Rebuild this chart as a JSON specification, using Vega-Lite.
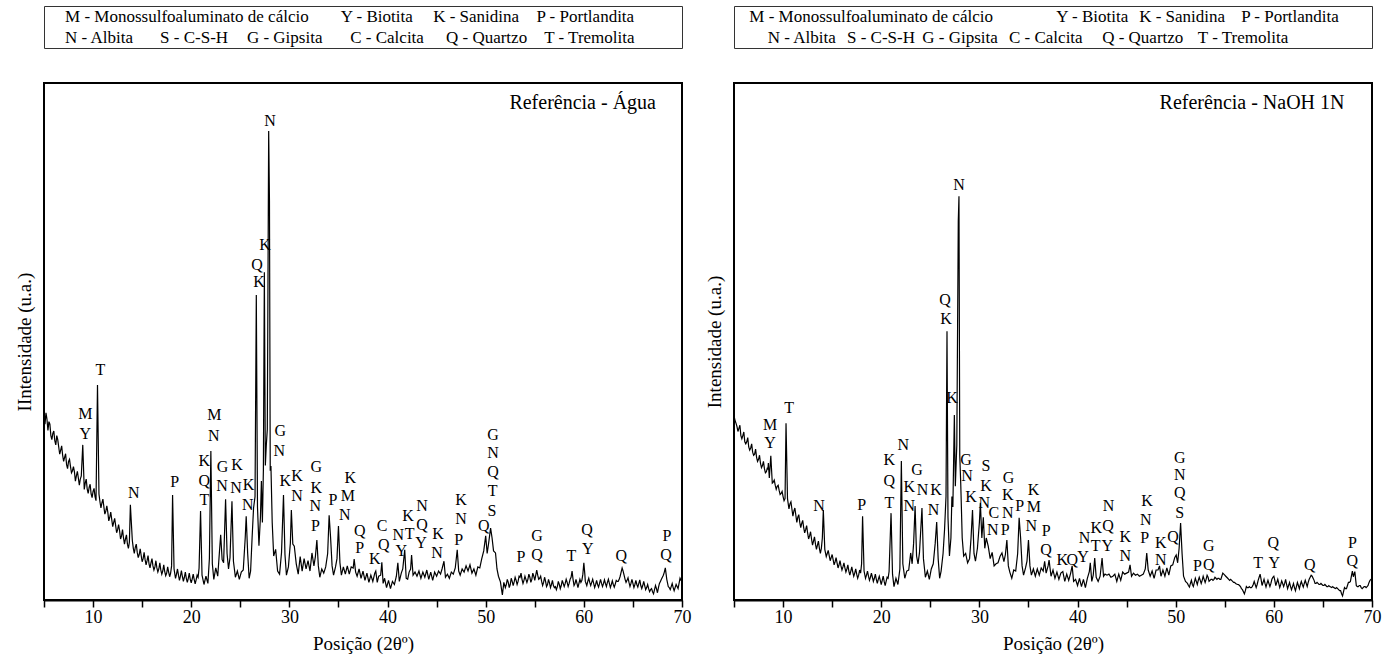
{
"$schema": "https://vega.github.io/schema/vega-lite/v6.json",
"background": "white",
"padding": {"left": 14, "top": 5, "right": 2, "bottom": 2},
"spacing": 12,
"config": {
  "font": "Liberation Serif, Times New Roman, Tinos, DejaVu Serif, serif",
  "view": {"stroke": "black", "strokeWidth": 2},
  "axis": {"grid": false, "labelFont": "Liberation Serif, Times New Roman, Tinos, DejaVu Serif, serif", "titleFont": "Liberation Serif, Times New Roman, Tinos, DejaVu Serif, serif", "titleFontWeight": "normal", "labelColor": "black", "titleColor": "black"},
  "text": {"font": "Liberation Serif, Times New Roman, Tinos, DejaVu Serif, serif", "color": "black"}
},
"datasets": {
"legL": [
 {"p": 3.3, "row": 1, "t": "M - Monossulfoaluminato de cálcio"},
 {"p": 46.5, "row": 1, "t": "Y - Biotita"},
 {"p": 61.0, "row": 1, "t": "K - Sanidina"},
 {"p": 77.2, "row": 1, "t": "P - Portlandita"},
 {"p": 3.3, "row": 2, "t": "N - Albita"},
 {"p": 18.2, "row": 2, "t": "S - C-S-H"},
 {"p": 31.8, "row": 2, "t": "G - Gipsita"},
 {"p": 48.0, "row": 2, "t": "C - Calcita"},
 {"p": 63.0, "row": 2, "t": "Q - Quartzo"},
 {"p": 78.4, "row": 2, "t": "T - Tremolita"}
],
"legR": [
 {"p": 2.4, "row": 1, "t": "M - Monossulfoaluminato de cálcio"},
 {"p": 50.5, "row": 1, "t": "Y - Biotita"},
 {"p": 63.5, "row": 1, "t": "K - Sanidina"},
 {"p": 79.5, "row": 1, "t": "P - Portlandita"},
 {"p": 5.3, "row": 2, "t": "N - Albita"},
 {"p": 17.7, "row": 2, "t": "S - C-S-H"},
 {"p": 29.5, "row": 2, "t": "G - Gipsita"},
 {"p": 43.1, "row": 2, "t": "C - Calcita"},
 {"p": 57.7, "row": 2, "t": "Q - Quartzo"},
 {"p": 72.7, "row": 2, "t": "T - Tremolita"}
],
"lineL": [
{"x":5.0,"v":360},{"x":5.2,"v":362},{"x":5.4,"v":328},{"x":5.6,"v":340},{"x":5.8,"v":310},{"x":6.0,"v":327},{"x":6.2,"v":300},{"x":6.4,"v":310},{"x":6.6,"v":282},{"x":6.8,"v":298},
{"x":7.0,"v":268},{"x":7.2,"v":283},{"x":7.4,"v":254},{"x":7.6,"v":272},{"x":7.8,"v":246},{"x":8.0,"v":258},{"x":8.2,"v":230},{"x":8.4,"v":249},{"x":8.6,"v":222},{"x":8.8,"v":240},
{"x":8.95,"v":300},{"x":9.1,"v":214},{"x":9.3,"v":234},{"x":9.5,"v":206},{"x":9.7,"v":224},{"x":9.9,"v":198},{"x":10.1,"v":216},{"x":10.3,"v":192},{"x":10.45,"v":416},{"x":10.6,"v":205},
{"x":10.8,"v":178},{"x":11.0,"v":195},{"x":11.2,"v":166},{"x":11.4,"v":182},{"x":11.6,"v":153},{"x":11.8,"v":170},{"x":12.0,"v":142},{"x":12.2,"v":158},{"x":12.4,"v":130},{"x":12.6,"v":146},
{"x":12.8,"v":118},{"x":13.0,"v":136},{"x":13.2,"v":108},{"x":13.4,"v":126},{"x":13.6,"v":100},{"x":13.8,"v":184},{"x":14.0,"v":115},{"x":14.2,"v":90},{"x":14.4,"v":108},{"x":14.6,"v":82},
{"x":14.8,"v":99},{"x":15.0,"v":74},{"x":15.2,"v":92},{"x":15.4,"v":68},{"x":15.6,"v":86},{"x":15.8,"v":62},{"x":16.0,"v":80},{"x":16.2,"v":58},{"x":16.4,"v":76},{"x":16.6,"v":54},
{"x":16.8,"v":72},{"x":17.0,"v":50},{"x":17.2,"v":68},{"x":17.4,"v":47},{"x":17.6,"v":64},{"x":17.8,"v":45},{"x":18.0,"v":66},{"x":18.1,"v":203},{"x":18.25,"v":60},{"x":18.4,"v":42},
{"x":18.6,"v":60},{"x":18.8,"v":38},{"x":19.0,"v":57},{"x":19.2,"v":36},{"x":19.4,"v":54},{"x":19.6,"v":34},{"x":19.8,"v":52},{"x":20.0,"v":33},{"x":20.2,"v":50},{"x":20.4,"v":31},
{"x":20.6,"v":48},{"x":20.8,"v":62},{"x":20.95,"v":172},{"x":21.1,"v":48},{"x":21.3,"v":30},{"x":21.5,"v":46},{"x":21.7,"v":32},{"x":21.85,"v":80},{"x":22.0,"v":288},{"x":22.15,"v":70},
{"x":22.3,"v":40},{"x":22.5,"v":62},{"x":22.7,"v":46},{"x":22.9,"v":100},{"x":23.0,"v":126},{"x":23.15,"v":78},{"x":23.3,"v":72},{"x":23.5,"v":195},{"x":23.65,"v":90},{"x":23.8,"v":60},
{"x":23.95,"v":82},{"x":24.15,"v":191},{"x":24.3,"v":75},{"x":24.5,"v":44},{"x":24.7,"v":56},{"x":24.9,"v":40},{"x":25.1,"v":54},{"x":25.3,"v":58},{"x":25.5,"v":120},{"x":25.6,"v":162},
{"x":25.75,"v":90},{"x":25.9,"v":42},{"x":26.05,"v":56},{"x":26.2,"v":120},{"x":26.35,"v":178},{"x":26.5,"v":200},{"x":26.63,"v":590},{"x":26.75,"v":180},{"x":26.9,"v":105},{"x":27.05,"v":160},
{"x":27.15,"v":230},{"x":27.25,"v":150},{"x":27.35,"v":250},{"x":27.45,"v":634},{"x":27.55,"v":260},{"x":27.65,"v":300},{"x":27.75,"v":330},{"x":27.89,"v":907},{"x":27.97,"v":772},{"x":28.05,"v":250},
{"x":28.12,"v":259},{"x":28.25,"v":150},{"x":28.4,"v":85},{"x":28.6,"v":98},{"x":28.8,"v":56},{"x":29.0,"v":50},{"x":29.2,"v":92},{"x":29.4,"v":203},{"x":29.55,"v":88},{"x":29.7,"v":48},
{"x":29.9,"v":64},{"x":30.1,"v":110},{"x":30.2,"v":174},{"x":30.35,"v":108},{"x":30.5,"v":104},{"x":30.7,"v":70},{"x":30.9,"v":50},{"x":31.1,"v":84},{"x":31.3,"v":56},{"x":31.5,"v":80},
{"x":31.7,"v":60},{"x":31.9,"v":76},{"x":32.1,"v":56},{"x":32.3,"v":91},{"x":32.5,"v":66},{"x":32.65,"v":84},{"x":32.8,"v":116},{"x":32.95,"v":66},{"x":33.1,"v":44},{"x":33.3,"v":60},
{"x":33.5,"v":52},{"x":33.7,"v":64},{"x":33.9,"v":90},{"x":34.05,"v":164},{"x":34.2,"v":120},{"x":34.35,"v":66},{"x":34.5,"v":48},{"x":34.7,"v":64},{"x":34.85,"v":80},{"x":35.0,"v":143},
{"x":35.15,"v":72},{"x":35.3,"v":48},{"x":35.5,"v":64},{"x":35.7,"v":50},{"x":35.9,"v":66},{"x":36.1,"v":50},{"x":36.3,"v":64},{"x":36.5,"v":62},{"x":36.6,"v":79},{"x":36.75,"v":54},
{"x":36.9,"v":46},{"x":37.1,"v":60},{"x":37.3,"v":42},{"x":37.5,"v":56},{"x":37.7,"v":38},{"x":37.9,"v":52},{"x":38.1,"v":34},{"x":38.3,"v":48},{"x":38.5,"v":36},{"x":38.7,"v":52},
{"x":38.8,"v":56},{"x":38.95,"v":34},{"x":39.1,"v":46},{"x":39.3,"v":48},{"x":39.42,"v":73},{"x":39.55,"v":32},{"x":39.7,"v":42},{"x":39.9,"v":24},{"x":40.1,"v":38},{"x":40.3,"v":22},
{"x":40.5,"v":36},{"x":40.7,"v":30},{"x":40.9,"v":46},{"x":41.05,"v":72},{"x":41.2,"v":36},{"x":41.4,"v":52},{"x":41.55,"v":60},{"x":41.75,"v":97},{"x":41.9,"v":42},{"x":42.05,"v":40},
{"x":42.2,"v":54},{"x":42.35,"v":60},{"x":42.45,"v":87},{"x":42.6,"v":48},{"x":42.8,"v":54},{"x":43.0,"v":46},{"x":43.2,"v":56},{"x":43.4,"v":42},{"x":43.6,"v":54},{"x":43.8,"v":44},
{"x":44.0,"v":58},{"x":44.2,"v":40},{"x":44.4,"v":54},{"x":44.6,"v":38},{"x":44.8,"v":54},{"x":45.0,"v":46},{"x":45.2,"v":56},{"x":45.4,"v":50},{"x":45.55,"v":60},{"x":45.75,"v":75},
{"x":45.9,"v":44},{"x":46.1,"v":50},{"x":46.3,"v":42},{"x":46.5,"v":54},{"x":46.7,"v":50},{"x":46.9,"v":62},{"x":47.1,"v":97},{"x":47.25,"v":56},{"x":47.4,"v":48},{"x":47.6,"v":60},
{"x":47.8,"v":54},{"x":48.0,"v":66},{"x":48.2,"v":56},{"x":48.4,"v":68},{"x":48.6,"v":52},{"x":48.8,"v":60},{"x":49.0,"v":48},{"x":49.2,"v":64},{"x":49.4,"v":62},{"x":49.6,"v":80},
{"x":49.8,"v":95},{"x":50.0,"v":124},{"x":50.15,"v":90},{"x":50.3,"v":110},{"x":50.5,"v":139},{"x":50.65,"v":120},{"x":50.8,"v":95},{"x":51.0,"v":91},{"x":51.15,"v":60},{"x":51.3,"v":46},
{"x":51.5,"v":35},{"x":51.7,"v":10},{"x":51.85,"v":34},{"x":52.0,"v":24},{"x":52.2,"v":40},{"x":52.4,"v":24},{"x":52.6,"v":42},{"x":52.8,"v":28},{"x":53.0,"v":44},{"x":53.2,"v":30},
{"x":53.4,"v":46},{"x":53.6,"v":52},{"x":53.8,"v":32},{"x":54.0,"v":46},{"x":54.2,"v":34},{"x":54.4,"v":50},{"x":54.6,"v":34},{"x":54.8,"v":52},{"x":55.0,"v":38},{"x":55.2,"v":58},
{"x":55.4,"v":40},{"x":55.6,"v":46},{"x":55.8,"v":28},{"x":56.0,"v":44},{"x":56.2,"v":26},{"x":56.4,"v":40},{"x":56.6,"v":24},{"x":56.8,"v":38},{"x":57.0,"v":24},{"x":57.2,"v":20},
{"x":57.4,"v":36},{"x":57.6,"v":22},{"x":57.8,"v":38},{"x":58.0,"v":26},{"x":58.2,"v":40},{"x":58.4,"v":26},{"x":58.6,"v":40},{"x":58.8,"v":56},{"x":59.0,"v":28},{"x":59.2,"v":40},
{"x":59.4,"v":24},{"x":59.6,"v":40},{"x":59.8,"v":38},{"x":60.0,"v":72},{"x":60.15,"v":36},{"x":60.3,"v":28},{"x":60.5,"v":42},{"x":60.7,"v":28},{"x":60.9,"v":40},{"x":61.1,"v":24},
{"x":61.3,"v":38},{"x":61.5,"v":25},{"x":61.7,"v":40},{"x":61.9,"v":26},{"x":62.1,"v":39},{"x":62.3,"v":26},{"x":62.5,"v":40},{"x":62.7,"v":24},{"x":62.9,"v":37},{"x":63.1,"v":25},
{"x":63.3,"v":38},{"x":63.5,"v":36},{"x":63.7,"v":46},{"x":63.9,"v":62},{"x":64.1,"v":48},{"x":64.3,"v":34},{"x":64.5,"v":43},{"x":64.7,"v":26},{"x":64.9,"v":40},{"x":65.1,"v":24},
{"x":65.3,"v":38},{"x":65.5,"v":25},{"x":65.7,"v":39},{"x":65.9,"v":22},{"x":66.1,"v":36},{"x":66.3,"v":20},{"x":66.5,"v":30},{"x":66.7,"v":16},{"x":66.9,"v":22},{"x":67.1,"v":12},
{"x":67.3,"v":28},{"x":67.5,"v":14},{"x":67.7,"v":32},{"x":67.9,"v":40},{"x":68.1,"v":48},{"x":68.3,"v":62},{"x":68.45,"v":40},{"x":68.6,"v":26},{"x":68.8,"v":20},{"x":69.0,"v":32},
{"x":69.2,"v":18},{"x":69.4,"v":30},{"x":69.6,"v":22},{"x":69.8,"v":42},{"x":70.0,"v":37},
{"x":5.1,"v":340},{"x":5.3,"v":350},{"x":5.5,"v":345},{"x":5.7,"v":318},{"x":5.9,"v":322},{"x":6.1,"v":308},{"x":6.3,"v":318},{"x":6.5,"v":296},{"x":6.7,"v":290},{"x":6.9,"v":280},
{"x":7.1,"v":276},{"x":7.3,"v":262},{"x":7.5,"v":268},{"x":7.7,"v":258},{"x":7.9,"v":250},{"x":8.1,"v":248},{"x":8.3,"v":240},{"x":8.5,"v":236},{"x":8.7,"v":234},{"x":9.2,"v":226},
{"x":9.4,"v":215},{"x":9.6,"v":218},{"x":9.8,"v":205},{"x":10.0,"v":210},{"x":10.2,"v":200},{"x":10.7,"v":190},{"x":10.9,"v":188},{"x":11.1,"v":180},{"x":11.3,"v":172},{"x":11.5,"v":170},
{"x":11.7,"v":160},{"x":11.9,"v":156},{"x":12.1,"v":150},{"x":12.3,"v":144},{"x":12.5,"v":136},{"x":12.7,"v":134},{"x":12.9,"v":124},{"x":13.1,"v":120},{"x":13.3,"v":118},{"x":13.5,"v":108},
{"x":13.7,"v":112},{"x":14.1,"v":100},{"x":14.3,"v":102},{"x":14.5,"v":92},{"x":14.7,"v":88},{"x":14.9,"v":86},{"x":15.1,"v":80},{"x":15.3,"v":78},{"x":15.5,"v":76},{"x":15.7,"v":70},
{"x":15.9,"v":72},{"x":16.1,"v":66},{"x":16.3,"v":64},{"x":16.5,"v":62},{"x":16.7,"v":60},{"x":16.9,"v":58},{"x":17.1,"v":56},{"x":17.3,"v":55},{"x":17.5,"v":52},{"x":17.7,"v":54},
{"x":17.9,"v":52},{"x":18.5,"v":50},{"x":18.7,"v":48},{"x":18.9,"v":46},{"x":19.1,"v":45},{"x":19.3,"v":44},{"x":19.5,"v":42},{"x":19.7,"v":42},{"x":19.9,"v":40},{"x":20.1,"v":41},
{"x":20.3,"v":40},{"x":20.5,"v":39},{"x":20.7,"v":44},
{"x":52.1,"v":30},{"x":52.3,"v":34},{"x":52.5,"v":30},{"x":52.7,"v":36},{"x":52.9,"v":35},{"x":53.1,"v":38},{"x":53.3,"v":36},{"x":53.5,"v":44},{"x":53.7,"v":40},{"x":53.9,"v":38},
{"x":54.1,"v":40},{"x":54.3,"v":40},{"x":54.5,"v":44},{"x":54.7,"v":40},{"x":54.9,"v":46},{"x":55.1,"v":48},{"x":55.3,"v":48},{"x":55.5,"v":42},{"x":55.7,"v":36},{"x":55.9,"v":34},
{"x":56.1,"v":36},{"x":56.3,"v":30},{"x":56.5,"v":33},{"x":56.7,"v":30},{"x":56.9,"v":28},{"x":57.1,"v":26},{"x":57.3,"v":26},{"x":57.5,"v":30},{"x":57.7,"v":28},{"x":57.9,"v":32},
{"x":58.1,"v":32},{"x":58.3,"v":34},{"x":58.5,"v":32},{"x":58.7,"v":44},{"x":58.9,"v":40},{"x":59.1,"v":32},{"x":59.3,"v":32},{"x":59.5,"v":32},{"x":59.7,"v":34},{"x":59.9,"v":50},
{"x":60.1,"v":50},{"x":60.4,"v":36},{"x":60.6,"v":34},{"x":60.8,"v":34},{"x":61.0,"v":32},{"x":61.2,"v":30},{"x":61.4,"v":30},{"x":61.6,"v":32},{"x":61.8,"v":32},{"x":62.0,"v":32},
{"x":62.2,"v":32},{"x":62.4,"v":34},{"x":62.6,"v":32},{"x":62.8,"v":30},{"x":63.0,"v":30},{"x":63.2,"v":31},{"x":63.4,"v":36},{"x":63.6,"v":40},{"x":63.8,"v":54},{"x":64.0,"v":56},
{"x":64.2,"v":40},{"x":64.4,"v":38},{"x":64.6,"v":34},{"x":64.8,"v":32},{"x":65.0,"v":32},{"x":65.2,"v":30},{"x":65.4,"v":30},{"x":65.6,"v":32},{"x":65.8,"v":28},{"x":66.0,"v":28},
{"x":66.2,"v":28},{"x":66.4,"v":24},{"x":66.6,"v":22},{"x":66.8,"v":20},{"x":67.0,"v":16},{"x":67.2,"v":20},{"x":67.4,"v":22},{"x":67.6,"v":24},{"x":67.8,"v":36},{"x":68.0,"v":44},
{"x":68.2,"v":54},{"x":68.7,"v":24},{"x":68.9,"v":26},{"x":69.1,"v":24},{"x":69.3,"v":24},{"x":69.5,"v":26},{"x":69.7,"v":32},{"x":69.9,"v":38}
],
"lineR": [
{"x":5.0,"v":356},{"x":5.2,"v":342},{"x":5.4,"v":326},{"x":5.6,"v":338},{"x":5.8,"v":312},{"x":6.0,"v":325},{"x":6.2,"v":302},{"x":6.4,"v":314},{"x":6.6,"v":290},{"x":6.8,"v":302},
{"x":7.0,"v":280},{"x":7.2,"v":292},{"x":7.4,"v":268},{"x":7.6,"v":280},{"x":7.8,"v":256},{"x":8.0,"v":268},{"x":8.2,"v":246},{"x":8.4,"v":256},{"x":8.5,"v":265},{"x":8.6,"v":236},
{"x":8.75,"v":279},{"x":8.9,"v":226},{"x":9.1,"v":232},{"x":9.3,"v":214},{"x":9.5,"v":222},{"x":9.7,"v":204},{"x":9.9,"v":210},{"x":10.1,"v":192},{"x":10.3,"v":342},{"x":10.45,"v":196},
{"x":10.6,"v":176},{"x":10.8,"v":190},{"x":11.0,"v":162},{"x":11.2,"v":178},{"x":11.4,"v":150},{"x":11.6,"v":165},{"x":11.8,"v":140},{"x":12.0,"v":154},{"x":12.2,"v":130},{"x":12.4,"v":144},
{"x":12.6,"v":118},{"x":12.8,"v":132},{"x":13.0,"v":106},{"x":13.2,"v":122},{"x":13.4,"v":98},{"x":13.6,"v":114},{"x":13.8,"v":90},{"x":14.0,"v":120},{"x":14.1,"v":174},{"x":14.25,"v":98},
{"x":14.4,"v":84},{"x":14.6,"v":96},{"x":14.8,"v":76},{"x":15.0,"v":88},{"x":15.2,"v":68},{"x":15.4,"v":82},{"x":15.6,"v":62},{"x":15.8,"v":76},{"x":16.0,"v":58},{"x":16.2,"v":72},
{"x":16.4,"v":54},{"x":16.6,"v":68},{"x":16.8,"v":48},{"x":17.0,"v":64},{"x":17.2,"v":46},{"x":17.4,"v":60},{"x":17.6,"v":42},{"x":17.8,"v":58},{"x":18.0,"v":70},{"x":18.1,"v":162},
{"x":18.25,"v":56},{"x":18.4,"v":42},{"x":18.6,"v":56},{"x":18.8,"v":38},{"x":19.0,"v":52},{"x":19.2,"v":36},{"x":19.4,"v":50},{"x":19.6,"v":32},{"x":19.8,"v":46},{"x":20.0,"v":30},
{"x":20.2,"v":46},{"x":20.4,"v":28},{"x":20.6,"v":44},{"x":20.8,"v":55},{"x":21.0,"v":168},{"x":21.15,"v":50},{"x":21.3,"v":26},{"x":21.5,"v":42},{"x":21.7,"v":30},{"x":21.9,"v":60},
{"x":22.05,"v":269},{"x":22.2,"v":70},{"x":22.4,"v":42},{"x":22.6,"v":56},{"x":22.8,"v":58},{"x":23.0,"v":91},{"x":23.15,"v":70},{"x":23.3,"v":110},{"x":23.45,"v":182},{"x":23.6,"v":85},
{"x":23.75,"v":70},{"x":23.9,"v":92},{"x":24.15,"v":178},{"x":24.3,"v":80},{"x":24.5,"v":44},{"x":24.7,"v":56},{"x":24.9,"v":40},{"x":25.1,"v":60},{"x":25.3,"v":70},{"x":25.5,"v":110},
{"x":25.65,"v":151},{"x":25.8,"v":80},{"x":25.95,"v":42},{"x":26.1,"v":56},{"x":26.3,"v":90},{"x":26.45,"v":136},{"x":26.6,"v":200},{"x":26.7,"v":520},{"x":26.8,"v":160},{"x":26.95,"v":85},
{"x":27.1,"v":120},{"x":27.2,"v":200},{"x":27.3,"v":180},{"x":27.45,"v":358},{"x":27.55,"v":220},{"x":27.7,"v":300},{"x":27.85,"v":733},{"x":27.92,"v":781},{"x":28.0,"v":280},{"x":28.1,"v":226},
{"x":28.25,"v":120},{"x":28.4,"v":85},{"x":28.6,"v":90},{"x":28.8,"v":72},{"x":29.0,"v":80},{"x":29.15,"v":120},{"x":29.3,"v":174},{"x":29.45,"v":90},{"x":29.6,"v":75},{"x":29.8,"v":100},
{"x":30.0,"v":150},{"x":30.1,"v":188},{"x":30.25,"v":120},{"x":30.4,"v":160},{"x":30.55,"v":100},{"x":30.7,"v":120},{"x":30.9,"v":104},{"x":31.1,"v":80},{"x":31.3,"v":92},{"x":31.5,"v":66},
{"x":31.7,"v":70},{"x":31.9,"v":72},{"x":32.1,"v":84},{"x":32.3,"v":91},{"x":32.5,"v":74},{"x":32.65,"v":88},{"x":32.8,"v":116},{"x":32.95,"v":66},{"x":33.1,"v":54},{"x":33.3,"v":42},
{"x":33.5,"v":58},{"x":33.7,"v":56},{"x":33.9,"v":90},{"x":34.05,"v":159},{"x":34.2,"v":120},{"x":34.35,"v":66},{"x":34.5,"v":48},{"x":34.7,"v":62},{"x":34.85,"v":75},{"x":35.0,"v":116},
{"x":35.15,"v":66},{"x":35.3,"v":48},{"x":35.5,"v":60},{"x":35.7,"v":46},{"x":35.9,"v":60},{"x":36.1,"v":48},{"x":36.3,"v":62},{"x":36.5,"v":56},{"x":36.65,"v":75},{"x":36.8,"v":52},
{"x":37.0,"v":66},{"x":37.1,"v":77},{"x":37.3,"v":46},{"x":37.5,"v":58},{"x":37.7,"v":42},{"x":37.9,"v":54},{"x":38.1,"v":40},{"x":38.3,"v":52},{"x":38.5,"v":55},{"x":38.7,"v":36},
{"x":38.9,"v":50},{"x":39.1,"v":38},{"x":39.3,"v":52},{"x":39.45,"v":66},{"x":39.6,"v":36},{"x":39.8,"v":40},{"x":40.0,"v":28},{"x":40.2,"v":42},{"x":40.4,"v":26},{"x":40.6,"v":40},
{"x":40.8,"v":24},{"x":41.0,"v":42},{"x":41.2,"v":55},{"x":41.3,"v":72},{"x":41.45,"v":36},{"x":41.6,"v":48},{"x":41.75,"v":81},{"x":41.9,"v":44},{"x":42.1,"v":36},{"x":42.3,"v":46},
{"x":42.5,"v":81},{"x":42.65,"v":46},{"x":42.8,"v":50},{"x":43.0,"v":48},{"x":43.2,"v":50},{"x":43.4,"v":44},{"x":43.6,"v":46},{"x":43.8,"v":50},{"x":44.0,"v":36},{"x":44.2,"v":50},
{"x":44.4,"v":38},{"x":44.6,"v":54},{"x":44.8,"v":50},{"x":45.0,"v":52},{"x":45.2,"v":54},{"x":45.35,"v":68},{"x":45.5,"v":46},{"x":45.7,"v":52},{"x":45.9,"v":48},{"x":46.1,"v":50},
{"x":46.3,"v":46},{"x":46.5,"v":48},{"x":46.7,"v":50},{"x":46.9,"v":60},{"x":47.05,"v":91},{"x":47.2,"v":58},{"x":47.4,"v":46},{"x":47.6,"v":56},{"x":47.8,"v":42},{"x":48.0,"v":58},
{"x":48.2,"v":58},{"x":48.35,"v":66},{"x":48.5,"v":46},{"x":48.7,"v":58},{"x":48.9,"v":46},{"x":49.1,"v":62},{"x":49.3,"v":48},{"x":49.5,"v":66},{"x":49.7,"v":68},{"x":49.9,"v":82},
{"x":50.05,"v":87},{"x":50.2,"v":72},{"x":50.35,"v":100},{"x":50.5,"v":149},{"x":50.65,"v":90},{"x":50.8,"v":46},{"x":51.0,"v":36},{"x":51.2,"v":32},{"x":51.4,"v":25},{"x":51.6,"v":38},
{"x":51.8,"v":26},{"x":52.0,"v":42},{"x":52.2,"v":30},{"x":52.4,"v":44},{"x":52.6,"v":32},{"x":52.8,"v":46},{"x":53.0,"v":34},{"x":53.2,"v":48},{"x":53.4,"v":36},{"x":53.6,"v":40},
{"x":53.8,"v":38},{"x":54.0,"v":44},{"x":54.2,"v":40},{"x":54.4,"v":42},{"x":54.6,"v":40},{"x":54.8,"v":52},{"x":55.0,"v":48},{"x":55.2,"v":44},{"x":55.4,"v":40},{"x":55.6,"v":40},
{"x":55.8,"v":36},{"x":56.0,"v":34},{"x":56.2,"v":31},{"x":56.4,"v":30},{"x":56.6,"v":26},{"x":56.8,"v":20},{"x":57.0,"v":12},{"x":57.2,"v":26},{"x":57.4,"v":24},{"x":57.6,"v":24},
{"x":57.8,"v":26},{"x":58.0,"v":36},{"x":58.2,"v":24},{"x":58.4,"v":38},{"x":58.6,"v":50},{"x":58.8,"v":28},{"x":59.0,"v":40},{"x":59.2,"v":25},{"x":59.4,"v":38},{"x":59.6,"v":26},
{"x":59.8,"v":40},{"x":60.0,"v":46},{"x":60.2,"v":28},{"x":60.4,"v":40},{"x":60.6,"v":24},{"x":60.8,"v":37},{"x":61.0,"v":26},{"x":61.2,"v":40},{"x":61.4,"v":22},{"x":61.6,"v":34},
{"x":61.8,"v":20},{"x":62.0,"v":32},{"x":62.2,"v":18},{"x":62.4,"v":34},{"x":62.6,"v":22},{"x":62.8,"v":36},{"x":63.0,"v":25},{"x":63.2,"v":38},{"x":63.4,"v":26},{"x":63.6,"v":40},
{"x":63.8,"v":48},{"x":64.0,"v":42},{"x":64.2,"v":32},{"x":64.4,"v":34},{"x":64.6,"v":30},{"x":64.8,"v":32},{"x":65.0,"v":28},{"x":65.2,"v":30},{"x":65.4,"v":26},{"x":65.6,"v":28},
{"x":65.8,"v":25},{"x":66.0,"v":26},{"x":66.2,"v":23},{"x":66.4,"v":24},{"x":66.6,"v":20},{"x":66.8,"v":18},{"x":67.0,"v":8},{"x":67.2,"v":24},{"x":67.4,"v":22},{"x":67.6,"v":34},
{"x":67.8,"v":36},{"x":68.0,"v":56},{"x":68.1,"v":45},{"x":68.25,"v":55},{"x":68.4,"v":28},{"x":68.6,"v":26},{"x":68.8,"v":28},{"x":69.0,"v":22},{"x":69.2,"v":26},{"x":69.4,"v":24},
{"x":69.6,"v":28},{"x":69.8,"v":38},{"x":70.0,"v":40},
{"x":5.1,"v":348},{"x":5.3,"v":336},{"x":5.5,"v":332},{"x":5.7,"v":318},{"x":5.9,"v":318},{"x":6.1,"v":306},{"x":6.3,"v":306},{"x":6.5,"v":296},{"x":6.7,"v":294},{"x":6.9,"v":286},
{"x":7.1,"v":282},{"x":7.3,"v":276},{"x":7.5,"v":272},{"x":7.7,"v":264},{"x":7.9,"v":260},{"x":8.1,"v":254},{"x":8.3,"v":248},{"x":8.45,"v":252},{"x":9.0,"v":228},{"x":9.2,"v":222},
{"x":9.4,"v":220},{"x":9.6,"v":212},{"x":9.8,"v":206},{"x":10.0,"v":200},{"x":10.2,"v":196},{"x":10.7,"v":186},{"x":10.9,"v":176},{"x":11.1,"v":172},{"x":11.3,"v":164},{"x":11.5,"v":160},
{"x":11.7,"v":150},{"x":11.9,"v":148},{"x":12.1,"v":140},{"x":12.3,"v":136},{"x":12.5,"v":130},{"x":12.7,"v":124},{"x":12.9,"v":118},{"x":13.1,"v":114},{"x":13.3,"v":108},{"x":13.5,"v":106},
{"x":13.7,"v":100},{"x":13.9,"v":100},{"x":14.5,"v":90},{"x":14.7,"v":86},{"x":14.9,"v":82},{"x":15.1,"v":78},{"x":15.3,"v":74},{"x":15.5,"v":72},{"x":15.7,"v":68},{"x":15.9,"v":66},
{"x":16.1,"v":64},{"x":16.3,"v":62},{"x":16.5,"v":60},{"x":16.7,"v":56},{"x":16.9,"v":56},{"x":17.1,"v":54},{"x":17.3,"v":52},{"x":17.5,"v":50},{"x":17.7,"v":48},{"x":17.9,"v":52},
{"x":18.5,"v":48},{"x":18.7,"v":46},{"x":18.9,"v":44},{"x":19.1,"v":44},{"x":19.3,"v":42},{"x":19.5,"v":40},{"x":19.7,"v":40},{"x":19.9,"v":38},{"x":20.1,"v":38},{"x":20.3,"v":36},
{"x":20.5,"v":36},{"x":20.7,"v":42},
{"x":51.1,"v":34},{"x":51.3,"v":28},{"x":51.5,"v":32},{"x":51.7,"v":30},{"x":51.9,"v":34},{"x":52.1,"v":36},{"x":52.3,"v":38},{"x":52.5,"v":38},{"x":52.7,"v":38},{"x":52.9,"v":40},
{"x":53.1,"v":40},{"x":53.3,"v":44},{"x":53.5,"v":38},{"x":53.7,"v":40},{"x":53.9,"v":40},{"x":54.1,"v":42},{"x":54.3,"v":42},{"x":54.5,"v":40},{"x":54.7,"v":46},{"x":54.9,"v":50},
{"x":55.1,"v":46},{"x":55.3,"v":42},{"x":55.5,"v":38},{"x":55.7,"v":38},{"x":55.9,"v":34},{"x":56.1,"v":32},{"x":56.3,"v":30},{"x":56.5,"v":28},{"x":56.7,"v":22},{"x":56.9,"v":16},
{"x":57.1,"v":18},{"x":57.3,"v":24},{"x":57.5,"v":26},{"x":57.7,"v":24},{"x":57.9,"v":30},{"x":58.1,"v":30},{"x":58.3,"v":30},{"x":58.5,"v":44},{"x":58.7,"v":40},{"x":58.9,"v":34},
{"x":59.1,"v":32},{"x":59.3,"v":32},{"x":59.5,"v":32},{"x":59.7,"v":32},{"x":59.9,"v":44},{"x":60.1,"v":38},{"x":60.3,"v":34},{"x":60.5,"v":32},{"x":60.7,"v":30},{"x":60.9,"v":32},
{"x":61.1,"v":32},{"x":61.3,"v":30},{"x":61.5,"v":28},{"x":61.7,"v":26},{"x":61.9,"v":26},{"x":62.1,"v":24},{"x":62.3,"v":26},{"x":62.5,"v":28},{"x":62.7,"v":30},{"x":62.9,"v":30},
{"x":63.1,"v":32},{"x":63.3,"v":32},{"x":63.5,"v":34},{"x":63.7,"v":44},{"x":63.9,"v":46},{"x":64.1,"v":38},{"x":64.3,"v":32},{"x":64.5,"v":32},{"x":64.7,"v":30},{"x":64.9,"v":30},
{"x":65.1,"v":28},{"x":65.3,"v":28},{"x":65.5,"v":26},{"x":65.7,"v":26},{"x":65.9,"v":24},{"x":66.1,"v":24},{"x":66.3,"v":22},{"x":66.5,"v":22},{"x":66.7,"v":18},{"x":66.9,"v":12},
{"x":67.1,"v":16},{"x":67.3,"v":22},{"x":67.5,"v":28},{"x":67.7,"v":34},{"x":67.9,"v":46},{"x":68.5,"v":26},{"x":68.7,"v":28},{"x":68.9,"v":24},{"x":69.1,"v":24},{"x":69.3,"v":26},
{"x":69.5,"v":26},{"x":69.7,"v":34},{"x":69.9,"v":40}
],
"labL": [
{"x":9.21,"v":360,"t":"M"},{"x":9.21,"v":322,"t":"Y"},{"x":10.74,"v":445,"t":"T"},{"x":14.14,"v":207,"t":"N"},{"x":18.32,"v":228,"t":"P"},
{"x":21.33,"v":268,"t":"K"},{"x":21.33,"v":230,"t":"Q"},{"x":21.33,"v":194,"t":"T"},{"x":22.35,"v":358,"t":"M"},{"x":22.3,"v":317,"t":"N"},
{"x":23.2,"v":257,"t":"G"},{"x":23.14,"v":220,"t":"N"},{"x":24.66,"v":262,"t":"K"},{"x":24.56,"v":217,"t":"N"},{"x":25.85,"v":223,"t":"K"},{"x":25.75,"v":183,"t":"N"},
{"x":26.7,"v":648,"t":"Q"},{"x":26.9,"v":615,"t":"K"},{"x":27.52,"v":687,"t":"K"},{"x":28.03,"v":926,"t":"N"},
{"x":29.08,"v":326,"t":"G"},{"x":28.98,"v":288,"t":"N"},{"x":29.59,"v":230,"t":"K"},{"x":30.78,"v":239,"t":"K"},{"x":30.78,"v":201,"t":"N"},
{"x":32.75,"v":257,"t":"G"},{"x":32.75,"v":217,"t":"K"},{"x":32.65,"v":181,"t":"N"},{"x":32.65,"v":143,"t":"P"},{"x":34.44,"v":194,"t":"P"},
{"x":36.21,"v":236,"t":"K"},{"x":35.97,"v":201,"t":"M"},{"x":35.64,"v":165,"t":"N"},{"x":37.16,"v":133,"t":"Q"},{"x":37.16,"v":101,"t":"P"},
{"x":38.7,"v":80,"t":"K"},{"x":39.44,"v":143,"t":"C"},{"x":39.61,"v":107,"t":"Q"},{"x":41.1,"v":126,"t":"N"},{"x":41.4,"v":95,"t":"Y"},
{"x":42.25,"v":128,"t":"T"},{"x":42.09,"v":162,"t":"K"},{"x":43.51,"v":182,"t":"N"},{"x":43.51,"v":146,"t":"Q"},{"x":43.41,"v":110,"t":"Y"},
{"x":45.14,"v":128,"t":"K"},{"x":45.04,"v":91,"t":"N"},{"x":47.49,"v":194,"t":"K"},{"x":47.49,"v":157,"t":"N"},{"x":47.25,"v":117,"t":"P"},
{"x":49.8,"v":143,"t":"Q"},{"x":50.75,"v":320,"t":"G"},{"x":50.75,"v":284,"t":"N"},{"x":50.75,"v":247,"t":"Q"},{"x":50.72,"v":210,"t":"T"},{"x":50.64,"v":173,"t":"S"},
{"x":53.6,"v":83,"t":"P"},{"x":55.23,"v":123,"t":"G"},{"x":55.23,"v":88,"t":"Q"},{"x":58.72,"v":85,"t":"T"},{"x":60.32,"v":136,"t":"Q"},{"x":60.39,"v":99,"t":"Y"},
{"x":63.82,"v":85,"t":"Q"},{"x":68.47,"v":123,"t":"P"},{"x":68.37,"v":88,"t":"Q"}
],
"labR": [
{"x":8.67,"v":338,"t":"M"},{"x":8.67,"v":303,"t":"Y"},{"x":10.61,"v":371,"t":"T"},{"x":13.67,"v":181,"t":"N"},{"x":18.0,"v":184,"t":"P"},
{"x":20.82,"v":270,"t":"K"},{"x":20.82,"v":230,"t":"Q"},{"x":20.82,"v":188,"t":"T"},{"x":22.24,"v":300,"t":"N"},{"x":23.64,"v":252,"t":"G"},
{"x":22.86,"v":219,"t":"K"},{"x":22.86,"v":181,"t":"N"},{"x":24.22,"v":213,"t":"N"},{"x":25.58,"v":213,"t":"K"},{"x":25.34,"v":175,"t":"N"},
{"x":26.5,"v":580,"t":"Q"},{"x":26.6,"v":544,"t":"K"},{"x":27.21,"v":391,"t":"K"},{"x":27.92,"v":803,"t":"N"},
{"x":28.64,"v":271,"t":"G"},{"x":28.75,"v":239,"t":"N"},{"x":29.15,"v":199,"t":"K"},{"x":30.68,"v":260,"t":"S"},{"x":30.68,"v":221,"t":"K"},{"x":30.51,"v":188,"t":"N"},
{"x":31.47,"v":168,"t":"C"},{"x":31.37,"v":136,"t":"N"},{"x":32.96,"v":236,"t":"G"},{"x":32.9,"v":204,"t":"K"},{"x":32.9,"v":168,"t":"N"},{"x":32.62,"v":135,"t":"P"},
{"x":34.12,"v":182,"t":"P"},{"x":35.51,"v":213,"t":"K"},{"x":35.55,"v":179,"t":"M"},{"x":35.28,"v":143,"t":"N"},{"x":36.8,"v":133,"t":"P"},{"x":36.8,"v":97,"t":"Q"},
{"x":38.44,"v":78,"t":"K"},{"x":39.46,"v":78,"t":"Q"},{"x":40.72,"v":120,"t":"N"},{"x":40.55,"v":83,"t":"Y"},{"x":41.91,"v":139,"t":"K"},{"x":41.84,"v":105,"t":"T"},
{"x":43.17,"v":182,"t":"N"},{"x":43.1,"v":143,"t":"Q"},{"x":43.03,"v":105,"t":"Y"},{"x":44.87,"v":121,"t":"K"},{"x":44.87,"v":85,"t":"N"},
{"x":47.08,"v":191,"t":"K"},{"x":46.94,"v":155,"t":"N"},{"x":46.84,"v":120,"t":"P"},{"x":48.47,"v":110,"t":"K"},{"x":48.47,"v":78,"t":"N"},{"x":49.73,"v":121,"t":"Q"},
{"x":50.41,"v":275,"t":"G"},{"x":50.41,"v":242,"t":"N"},{"x":50.41,"v":206,"t":"Q"},{"x":50.41,"v":168,"t":"S"},
{"x":52.21,"v":65,"t":"P"},{"x":53.37,"v":104,"t":"G"},{"x":53.37,"v":68,"t":"Q"},{"x":58.41,"v":72,"t":"T"},{"x":59.94,"v":110,"t":"Q"},{"x":60.04,"v":72,"t":"Y"},
{"x":63.67,"v":68,"t":"Q"},{"x":68.0,"v":110,"t":"P"},{"x":68.0,"v":75,"t":"Q"}
]
},
"hconcat": [
 {"spacing": 33, "vconcat": [
  {"width": 638, "height": 42, "view": {"stroke": "#333", "strokeWidth": 1},
   "data": {"name": "legL"},
   "mark": {"type": "text", "align": "left", "baseline": "middle", "fontSize": 17},
   "encoding": {
     "x": {"field": "p", "type": "quantitative", "scale": {"domain": [0, 100], "nice": false}, "axis": null},
     "y": {"field": "row", "type": "ordinal", "scale": {"type": "point", "padding": 0.5}, "axis": null},
     "text": {"field": "t"}
   }},
  {"width": 638, "height": 517,
   "encoding": {
     "x": {"field": "x", "type": "quantitative", "scale": {"domain": [5, 70], "nice": false, "zero": false},
       "axis": {"title": "Posição (2θº)", "values": [5,10,15,20,25,30,35,40,45,50,55,60,65,70], "labelExpr": "datum.value % 10 === 0 ? datum.label : ''", "labelFlush": false, "labelOverlap": false, "tickSize": 7, "tickWidth": 1.5, "tickColor": "black", "domainColor": "black", "domainWidth": 2, "labelFontSize": 18, "titleFontSize": 19, "labelPadding": 1, "titlePadding": 8}},
     "y": {"field": "v", "type": "quantitative", "scale": {"domain": [0, 1000], "nice": false, "zero": false},
       "axis": {"title": "IIntensidade (u.a.)", "labels": false, "ticks": false, "domain": false, "titleFontSize": 19, "titlePadding": 10}}
   },
   "layer": [
     {"data": {"name": "lineL"}, "mark": {"type": "line", "color": "black", "strokeWidth": 1.2, "clip": true}},
     {"data": {"name": "labL"}, "mark": {"type": "text", "fontSize": 16, "baseline": "middle"}, "encoding": {"text": {"field": "t"}}},
     {"data": {"values": [{"x": 67.35, "v": 961, "t": "Referência - Água"}]}, "mark": {"type": "text", "align": "right", "baseline": "middle", "fontSize": 20}, "encoding": {"text": {"field": "t"}}}
   ]}
 ]},
 {"spacing": 33, "vconcat": [
  {"width": 638, "height": 42, "view": {"stroke": "#333", "strokeWidth": 1},
   "data": {"name": "legR"},
   "mark": {"type": "text", "align": "left", "baseline": "middle", "fontSize": 17},
   "encoding": {
     "x": {"field": "p", "type": "quantitative", "scale": {"domain": [0, 100], "nice": false}, "axis": null},
     "y": {"field": "row", "type": "ordinal", "scale": {"type": "point", "padding": 0.5}, "axis": null},
     "text": {"field": "t"}
   }},
  {"width": 638, "height": 517,
   "encoding": {
     "x": {"field": "x", "type": "quantitative", "scale": {"domain": [5, 70], "nice": false, "zero": false},
       "axis": {"title": "Posição (2θº)", "values": [5,10,15,20,25,30,35,40,45,50,55,60,65,70], "labelExpr": "datum.value % 10 === 0 ? datum.label : ''", "labelFlush": false, "labelOverlap": false, "tickSize": 7, "tickWidth": 1.5, "tickColor": "black", "domainColor": "black", "domainWidth": 2, "labelFontSize": 18, "titleFontSize": 19, "labelPadding": 1, "titlePadding": 8}},
     "y": {"field": "v", "type": "quantitative", "scale": {"domain": [0, 1000], "nice": false, "zero": false},
       "axis": {"title": "Intensidade (u.a.)", "labels": false, "ticks": false, "domain": false, "titleFontSize": 19, "titlePadding": 10}}
   },
   "layer": [
     {"data": {"name": "lineR"}, "mark": {"type": "line", "color": "black", "strokeWidth": 1.2, "clip": true}},
     {"data": {"name": "labR"}, "mark": {"type": "text", "fontSize": 16, "baseline": "middle"}, "encoding": {"text": {"field": "t"}}},
     {"data": {"values": [{"x": 67.2, "v": 961, "t": "Referência - NaOH 1N"}]}, "mark": {"type": "text", "align": "right", "baseline": "middle", "fontSize": 20}, "encoding": {"text": {"field": "t"}}}
   ]}
 ]}
]
}
